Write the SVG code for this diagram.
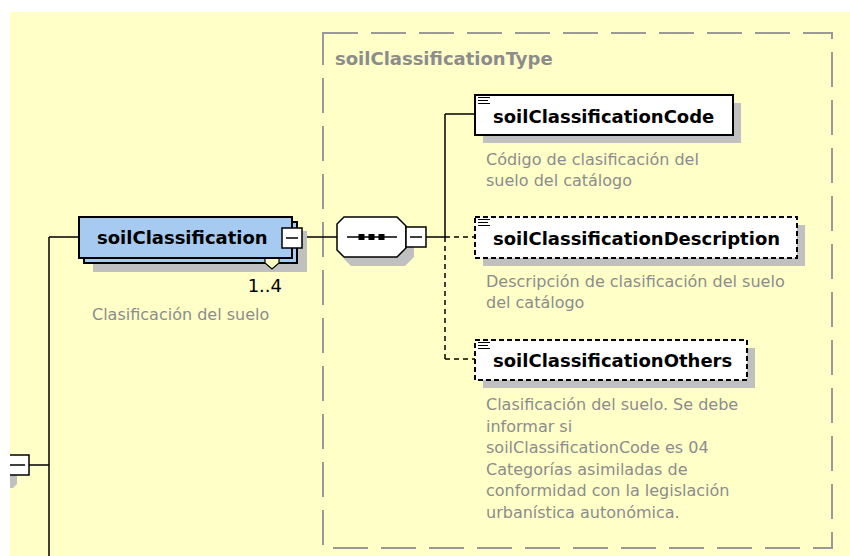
<svg xmlns="http://www.w3.org/2000/svg" width="850" height="556" viewBox="0 0 850 556">
<style>
.bg{fill:#FFFFC8}
.shadow{fill:#C0C0C0}
.ln{stroke:#000;stroke-width:1.5;fill:none}
.dl{stroke:#000;stroke-width:1.5;fill:none;stroke-dasharray:5,4}
.box{fill:#fff;stroke:#000;stroke-width:2}
.dbox{fill:#fff;stroke:#000;stroke-width:2;stroke-dasharray:5,3}
.blue{fill:#A6CAF0;stroke:#000;stroke-width:2}
.mbox{fill:#fff;stroke:#000;stroke-width:1.5}
.name{font-family:"DejaVu Sans",sans-serif;font-weight:bold;font-size:18px;fill:#000}
.doc{font-family:"DejaVu Sans",sans-serif;font-size:16px;fill:#8C8C8C}
.title{font-family:"DejaVu Sans",sans-serif;font-weight:bold;font-size:18px;fill:#8C8C8C}
.occ{font-family:"DejaVu Sans",sans-serif;font-size:18px;fill:#000}
</style>
<rect x="0" y="0" width="850" height="556" fill="#fff"/>
<rect class="bg" x="10" y="12" width="840" height="544"/>

<g id="type-box">
<rect x="323" y="33" width="509" height="515" fill="none" stroke="#999" stroke-width="2" stroke-dasharray="35,13"/>
<text class="title" x="335" y="65">soilClassificationType</text>
</g>

<g id="connectors">
<path class="ln" d="M49,237 V556 M49,237 H79 M29,465 H49"/>
<path class="ln" d="M302,237 H337 M426,237 H445 M445,114 V237 M445,114 H475"/>
<path class="dl" d="M445,237 V359 M445,237 H475 M445,359 H475"/>
</g>

<g id="parent-stub">
<polygon class="shadow" points="10,475 17,475 17,484 13,488 10,488"/>
<rect class="mbox" x="4" y="455" width="25" height="20"/>
<path class="ln" d="M10,465 H25"/>
</g>

<g id="soilClassification">
<rect class="shadow" x="93" y="231" width="214" height="41"/>
<rect class="blue" x="84" y="222" width="213" height="41"/>
<rect class="blue" x="79" y="217" width="213" height="41"/>
<text class="name" x="97" y="244">soilClassification</text>
<rect class="mbox" x="282" y="228" width="20" height="20"/>
<path class="ln" d="M286,238 H298"/>
<path d="M265,259 V263 L272,269 L279,263 V259" fill="#FFFFC8" stroke="#000" stroke-width="1.2"/>
<text class="occ" x="282" y="292" text-anchor="end">1..4</text>
<text class="doc" x="92" y="320">Clasificación del suelo</text>
</g>

<g id="sequence">
<polygon class="shadow" points="351,225 405,225 414,234 414,257 405,266 351,266 344,259 344,232"/>
<polygon points="344,217 397,217 406,226 406,248 397,257 344,257 337,250 337,224" fill="#fff" stroke="#000" stroke-width="1.5"/>
<path class="ln" d="M347,237 H397"/>
<rect x="358.5" y="234" width="6" height="6" fill="#000"/>
<rect x="368.5" y="234" width="6" height="6" fill="#000"/>
<rect x="378.5" y="234" width="6" height="6" fill="#000"/>
<rect class="mbox" x="406" y="227" width="20" height="20"/>
<path class="ln" d="M410,237 H422"/>
</g>

<g id="soilClassificationCode">
<rect class="shadow" x="483" y="103" width="258" height="40"/>
<rect class="box" x="475" y="95" width="258" height="40"/>
<path d="M478,97.5 H490 M478,100.5 H488 M478,103.5 H490" stroke="#000" stroke-width="1"/>
<text class="name" x="493" y="123">soilClassificationCode</text>
<text class="doc" x="486" y="165">Código de clasificación del</text>
<text class="doc" x="486" y="186">suelo del catálogo</text>
</g>

<g id="soilClassificationDescription">
<rect class="shadow" x="483" y="225" width="322" height="41"/>
<rect class="dbox" x="475" y="217" width="322" height="41"/>
<path d="M478,219.5 H490 M478,222.5 H488 M478,225.5 H490" stroke="#000" stroke-width="1"/>
<text class="name" x="493" y="245">soilClassificationDescription</text>
<text class="doc" x="486" y="287">Descripción de clasificación del suelo</text>
<text class="doc" x="486" y="308">del catálogo</text>
</g>

<g id="soilClassificationOthers">
<rect class="shadow" x="483" y="348" width="272" height="40"/>
<rect class="dbox" x="475" y="340" width="272" height="40"/>
<path d="M478,342.5 H490 M478,345.5 H488 M478,348.5 H490" stroke="#000" stroke-width="1"/>
<text class="name" x="493" y="367">soilClassificationOthers</text>
<text class="doc" x="486" y="410">Clasificación del suelo. Se debe</text>
<text class="doc" x="486" y="431.5">informar si</text>
<text class="doc" x="486" y="453">soilClassificationCode es 04</text>
<text class="doc" x="486" y="474.5">Categorías asimiladas de</text>
<text class="doc" x="486" y="496">conformidad con la legislación</text>
<text class="doc" x="486" y="517.5">urbanística autonómica.</text>
</g>

<rect x="0" y="0" width="10" height="556" fill="#fff"/>
<rect x="0" y="0" width="850" height="12" fill="#fff"/>
</svg>
